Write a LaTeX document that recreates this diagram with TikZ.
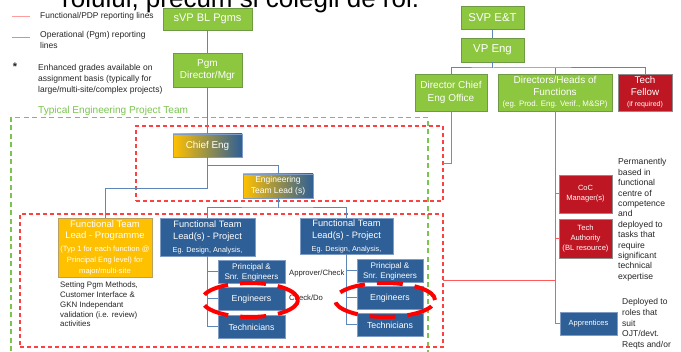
\documentclass[tikz,border=0pt]{standalone}
\usepackage{fontspec}
\setmainfont{Liberation Sans}
\usetikzlibrary{shapes.geometric}
\definecolor{gfill}{HTML}{8DC63F}
\definecolor{gline}{HTML}{6F9A45}
\definecolor{bfill}{HTML}{2E5F96}
\definecolor{bline}{HTML}{7F9DC4}
\definecolor{afill}{HTML}{FFC000}
\definecolor{aline}{HTML}{B8A060}
\definecolor{rfill}{HTML}{BE1622}
\definecolor{rline}{HTML}{8C8C8C}
\definecolor{opcol}{HTML}{5F86B8}
\definecolor{fncol}{HTML}{FF5A5A}
\definecolor{gdcol}{HTML}{7CC450}
\definecolor{rdcol}{HTML}{FF4040}
\definecolor{textgray}{HTML}{262626}
\newcommand{\fs}[2]{\fontsize{#1}{#2}\selectfont}
\tikzset{
  box/.style={draw, line width=0.6pt, align=center, text=white, inner sep=0pt, outer sep=0pt},
  gbox/.style={box, fill=gfill, draw=gline},
  bbox/.style={box, fill=bfill, draw=bline},
  rbox/.style={box, fill=rfill, draw=rline},
  abox/.style={box, fill=afill, draw=aline},
  sbox/.style={box, left color=afill, right color=bfill, draw=bline},
  op/.style={draw=opcol, line width=1pt},
  fn/.style={draw=fncol, line width=1pt},
  gdash/.style={draw=gdcol, line width=1.3pt, dash pattern=on 5pt off 3.5pt},
  rdash/.style={draw=rdcol, line width=1.3pt, dash pattern=on 4pt off 3pt, inner sep=0pt, outer sep=0pt},
  oval/.style={draw=red, line width=4pt, dash pattern=on 26pt off 12pt, ellipse, inner sep=0pt},
  txt/.style={align=left, inner sep=0pt, text=textgray}
}
\begin{document}
\begin{tikzpicture}[x=1pt,y=-1pt]
\useasboundingbox (0,0) rectangle (681,352);
\clip (0,0) rectangle (681,352);
\fill[white] (0,0) rectangle (681,352);

% clipped title text
\node[anchor=base west, inner sep=0pt, text=black, font=\fs{26}{30}] (title) at (62,8) {rolului, precum și colegii de rol.};

% legend
\coordinate (l1a) at (12,16); \coordinate (l1b) at (30,16);
\draw[draw=fncol!60, line width=0.8pt] (l1a) -- (l1b);
\node[txt, anchor=west, font=\fs{8.4}{11}] (leg1) at (40,16.5) {Functional/PDP reporting lines};
\coordinate (l2a) at (12,37); \coordinate (l2b) at (30,37);
\draw[draw=opcol!70, line width=0.8pt] (l2a) -- (l2b);
\node[txt, anchor=north west, font=\fs{8.5}{11}] (leg2) at (40,31.5) {Operational (Pgm) reporting\\lines};
\node[txt, font=\fs{11}{11}\bfseries] (star) at (15,67) {*};
\node[txt, anchor=north west, font=\fs{8.5}{11}] (leg3) at (38,64.5) {Enhanced grades available on\\assignment basis (typically for\\large/multi-site/complex projects)};
\node[txt, anchor=west, text=gdcol, font=\fs{10.1}{12}] (team) at (38,111) {Typical Engineering Project Team};

% dashed frames
\draw[gdash] (11,360) -- (11,117.5) -- (428,117.5) -- (428,360);
\node[rdash, minimum width=307pt, minimum height=75pt] (rb1) at (289.5,163.5) {};
\node[rdash, minimum width=423pt, minimum height=133pt] (rb2) at (231.5,280.5) {};

% left hierarchy
\node[gbox, minimum width=89pt, minimum height=22pt, font=\fs{11}{13}] (svpbl) at (207.5,19) {sVP BL Pgms};
\node[gbox, minimum width=69pt, minimum height=34pt, font=\fs{10}{12.5}] (pgm) at (207.5,70) {Pgm\\Director/Mgr};
\node[sbox, minimum width=69pt, minimum height=23pt, font=\fs{9.9}{11}] (chief) at (207.5,145.5) {Chief Eng};
\node[sbox, minimum width=70pt, minimum height=24pt, font=\fs{8.5}{10.5}] (etl) at (278,186) {Engineering\\Team Lead (s)};
\node[abox, minimum width=94pt, minimum height=59pt, font=\fs{9.5}{11}] (ftlprog) at (105,247.5) {Functional Team\\Lead - Programme\\[2pt]{\fs{7.6}{9}(Typ 1 for each function @}\\{\fs{7.6}{9}Principal Eng level) for}\\{\fs{7.6}{9}major/multi-site}};
\node[bbox, minimum width=95pt, minimum height=38pt, font=\fs{9.3}{12}] (ftlp1) at (207.5,237) {Functional Team\\Lead(s) - Project\\[1pt]{\fs{7.3}{9}Eg. Design, Analysis,}};
\node[bbox, minimum width=93pt, minimum height=36pt, font=\fs{9.3}{12}] (ftlp2) at (346.5,236) {Functional Team\\Lead(s) - Project\\[1pt]{\fs{7.3}{9}Eg. Design, Analysis,}};
\node[bbox, minimum width=67pt, minimum height=23pt, font=\fs{8.1}{10}] (pse1) at (251.5,272) {Principal \&\\Snr. Engineers};
\node[bbox, minimum width=67pt, minimum height=23pt, font=\fs{8.8}{10}] (eng1) at (251.5,299) {Engineers};
\node[bbox, minimum width=67pt, minimum height=23pt, font=\fs{8.8}{10}] (tech1) at (251.5,327) {Technicians};
\node[bbox, minimum width=66pt, minimum height=23pt, font=\fs{8.1}{10}] (pse2) at (390,271) {Principal \&\\Snr. Engineers};
\node[bbox, minimum width=66pt, minimum height=23pt, font=\fs{8.8}{10}] (eng2) at (390,298) {Engineers};
\node[bbox, minimum width=66pt, minimum height=23pt, font=\fs{8.8}{10}] (tech2) at (390,325) {Technicians};

\node[txt, anchor=west, font=\fs{7.7}{10}] (appr1) at (289,274) {Approver/Check};
\node[txt, anchor=west, font=\fs{7.7}{10}] (chk1) at (289,298) {Check/Do};
\node[txt, anchor=north west, font=\fs{7.9}{9.7}] (setting) at (60,282) {Setting Pgm Methods,\\Customer Interface \&\\GKN Independant\\validation (i.e. review)\\activities};

% right hierarchy
\node[gbox, minimum width=63pt, minimum height=23pt, font=\fs{11.4}{12}] (svpet) at (492.5,17.5) {SVP E\&T};
\node[gbox, minimum width=63pt, minimum height=24pt, font=\fs{11.4}{12}] (vpeng) at (492.5,50) {VP Eng};
\node[gbox, minimum width=72pt, minimum height=37pt, font=\fs{10}{12.5}] (dceo) at (451,92.5) {Director Chief\\Eng Office};
\node[gbox, minimum width=114pt, minimum height=37pt, font=\fs{10}{11.5}] (dhf) at (555,92.5) {Directors/Heads of\\Functions\\{\fs{7.9}{9.5}(eg. Prod. Eng. Verif., M\&SP)}};
\node[rbox, minimum width=54pt, minimum height=37pt, font=\fs{9.8}{11.5}] (fellow) at (645,92.5) {Tech\\Fellow\\{\fs{7}{9.5}(if required)}};
\node[rbox, minimum width=53pt, minimum height=38pt, font=\fs{7.5}{10}] (coc) at (585.5,194) {CoC\\Manager(s)};
\node[rbox, minimum width=53pt, minimum height=39pt, font=\fs{7.6}{10}] (ta) at (585.5,238.5) {Tech\\Authority\\(BL resource)};
\node[bbox, minimum width=57pt, minimum height=23pt, font=\fs{7.5}{10}] (appr) at (588.5,323.5) {Apprentices};

\node[txt, anchor=north west, font=\fs{8.6}{10.4}] (perm) at (618,158.5) {Permanently\\based in\\functional\\centre of\\competence\\and\\deployed to\\tasks that\\require\\significant\\technical\\expertise};
\node[txt, anchor=north west, font=\fs{8.5}{10.7}] (depl) at (622,298.5) {Deployed to\\roles that\\suit\\OJT/devt.\\Reqts and/or};

% operational connectors
\draw[op] (svpbl.south) -- (pgm.north);
\draw[op] (pgm.south) -- (chief.north);
\draw[op] (chief.south) -- ++(0,9) -| (etl.north);
\draw[op] (chief.south) -- ++(0,32) -| (ftlprog.north);
\draw[op] (etl.south) -- ++(0,10) coordinate (j1);
\draw[op] (ftlp1.north) |- (j1) -| (ftlp2.north);
\draw[op] (ftlp1.south) |- (tech1.west);
\draw[op] (ftlp1.south) |- (pse1.west);
\draw[op] (ftlp1.south) |- (eng1.west);
\draw[op] (ftlp2.south) |- (tech2.west);
\draw[op] (ftlp2.south) |- (pse2.west);
\draw[op] (ftlp2.south) |- (eng2.west);
\draw[op] (svpet.south) -- (vpeng.north);
\draw[op] (vpeng.south) -- ++(0,6) coordinate (j2);
\draw[op] (dceo.north) |- (j2) -| (fellow.north);
\draw[op] (dhf.north) -- (dhf.north |- j2);

% functional connectors
\draw[fn] (dceo.south) |- (rb1.east);
\draw[fn] (dhf.south) |- (appr.west);
\draw[fn] (dhf.south) |- (coc.west);
\draw[fn] (dhf.south) |- (ta.west);
\draw[fn] (rb2.east) -- (rb2.east -| dhf.south);

% highlight ovals
\node[oval, minimum width=96pt, minimum height=34pt] (ov1) at (250,300) {};
\node[oval, minimum width=100pt, minimum height=34pt] (ov2) at (385,300) {};
\end{tikzpicture}
\end{document}
